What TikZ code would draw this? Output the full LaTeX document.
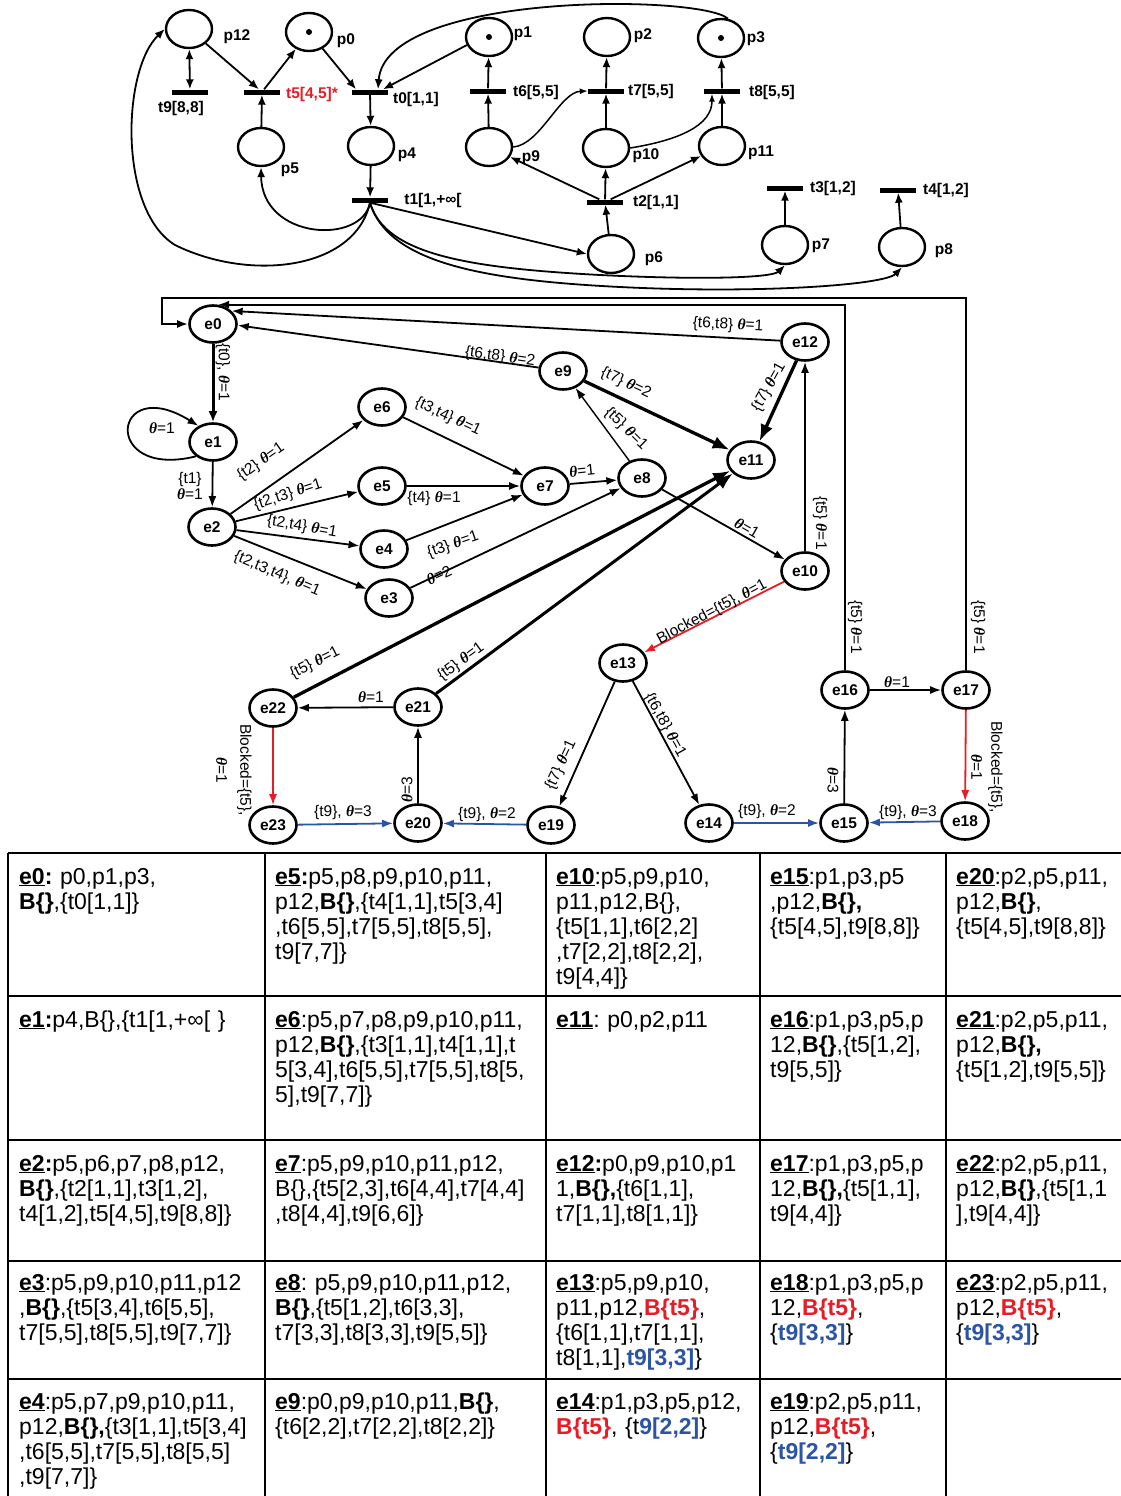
\documentclass[tikz,border=0pt]{standalone}
\usepackage{fontspec}
\setmainfont{Liberation Sans}
\newfontfamily\serifth{Liberation Serif}
\usetikzlibrary{arrows.meta,shapes.geometric}
\definecolor{myred}{RGB}{232,28,36}
\definecolor{myblue}{RGB}{44,84,164}
\newcommand{\thx}{{\serifth\bfseries\itshape θ}}
\newcommand{\lbl}[1]{\underline{\textbf{#1}}}
\newcommand{\Rt}[1]{\textcolor{myred}{\textbf{#1}}}
\newcommand{\Bt}[1]{\textcolor{myblue}{\textbf{#1}}}
\frenchspacing
\begin{document}
\begin{tikzpicture}[x=1pt,y=-1pt,
  pplace/.style={ellipse, draw, line width=2.4pt, minimum width=46pt, minimum height=38pt, inner sep=0pt},
  ptrans/.style={rectangle, fill=black, minimum width=36pt, minimum height=5pt, inner sep=0pt},
  plab/.style={font=\fontsize{15.5}{16}\selectfont\bfseries, inner sep=0pt},
  tok/.style={circle, fill=black, minimum size=6pt, inner sep=0pt},
  parc/.style={line width=1.8pt, -{Latex[length=10pt,width=8pt]}},
  estate/.style={ellipse, draw, line width=2.6pt, minimum width=47pt, minimum height=37pt, inner sep=0pt, font=\fontsize{15.5}{16}\selectfont\bfseries},
  ed/.style={line width=1.8pt, -{Latex[length=11pt,width=8pt]}},
  edbig/.style={line width=3.3pt, -{Latex[length=17pt,width=13pt]}},
  rededge/.style={ed, draw=myred},
  blueedge/.style={ed, draw=myblue},
  elab/.style={font=\fontsize{15.5}{16}\selectfont, inner sep=0pt},
  tline/.style={line width=2pt},
  cell/.style={anchor=base west, inner sep=0pt, text width=#1, align=left, font=\fontsize{23}{25}\selectfont}
]
\useasboundingbox (0,0) rectangle (1121,1496);

% ---------------- Petri net ----------------
\node[pplace] (p12) at (189,29) {};
\node[pplace] (p0) at (309,32) {};
\node[pplace] (p1) at (489,37) {};
\node[pplace] (p2) at (607,37) {};
\node[pplace] (p3) at (721,38) {};
\node[pplace] (p5) at (261,147) {};
\node[pplace] (p4) at (371,146) {};
\node[pplace] (p9) at (489,147) {};
\node[pplace] (p10) at (606,148) {};
\node[pplace] (p11) at (722,146) {};
\node[pplace] (p6) at (611,254) {};
\node[pplace] (p7) at (785,245) {};
\node[pplace] (p8) at (902,247) {};
\node[tok] (k0) at (p0) {};
\node[tok] (k1) at (p1) {};
\node[tok] (k3) at (p3) {};

\node[ptrans] (t9) at (190,92) {};
\node[ptrans] (t5) at (262,92) {};
\node[ptrans] (t0) at (370,92) {};
\node[ptrans] (t6) at (488,91) {};
\node[ptrans] (t7) at (606,91) {};
\node[ptrans] (t8) at (722,91) {};
\node[ptrans] (t1) at (370,200) {};
\node[ptrans] (t2) at (605,202) {};
\node[ptrans] (t3) at (785,188) {};
\node[ptrans] (t4) at (898,190) {};

\node[plab] (lp12) at (237,37) {p12};
\node[plab] (lp0) at (346,41) {p0};
\node[plab] (lt9) at (181,108) {t9[8,8]};
\node[plab, text=myred] (lt5) at (312,94) {t5[4,5]*};
\node[plab] (lt0) at (416,99) {t0[1,1]};
\node[plab] (lp5) at (290,170) {p5};
\node[plab] (lp4) at (407,155) {p4};
\node[plab] (lt1) at (433,200) {t1[1,+∞[};
\node[plab] (lp1) at (523,34) {p1};
\node[plab] (lp2) at (643,36) {p2};
\node[plab] (lp3) at (756,39) {p3};
\node[plab] (lt6) at (536,92) {t6[5,5]};
\node[plab] (lt7) at (651,91) {t7[5,5]};
\node[plab] (lt8) at (772,92) {t8[5,5]};
\node[plab] (lp9) at (531,158) {p9};
\node[plab] (lp10) at (646,156) {p10};
\node[plab] (lp11) at (761,153) {p11};
\node[plab] (lt2) at (656,202) {t2[1,1]};
\node[plab] (lt3) at (833,188) {t3[1,2]};
\node[plab] (lt4) at (946,190) {t4[1,2]};
\node[plab] (lp6) at (654,259) {p6};
\node[plab] (lp7) at (821,246) {p7};
\node[plab] (lp8) at (944,251) {p8};

\draw[parc, {Latex[length=10pt,width=8pt]}-{Latex[length=10pt,width=8pt]}] (p12) -- (t9);
\draw[parc] (p12) -- (t5);
\draw[parc] (t5) -- (p0);
\draw[parc] (p5) -- (t5);
\draw[parc] (p0) -- ([xshift=-14pt]t0.north);
\draw[parc] (p1.200) -- ([xshift=13pt]t0.north);
\draw[parc] (p3.70) .. controls (700,-6) and (385,-8) .. ([xshift=8pt]t0.north);
\draw[parc] (t0) -- (p4);
\draw[parc] (p4) -- (t1);
\draw[parc] (t1.south) .. controls (362,245) and (262,240) .. (p5.south);
\draw[parc] (t1.south) .. controls (355,270) and (250,282) .. (175,245) .. controls (118,210) and (122,70) .. (p12.west);
\draw[parc] (t1.south) -- (p6.west);
\draw[parc] (t1.south) .. controls (385,255) and (470,268) .. (600,275) .. controls (700,280) and (772,278) .. (p7.south);
\draw[parc] (t1.south) .. controls (388,262) and (480,280) .. (620,287) .. controls (760,294) and (885,285) .. (p8.south);
\draw[parc] (p9) -- (t6);
\draw[parc] (t6) -- (p1);
\draw[parc] (p10) -- (t7);
\draw[parc] (t7) -- (p2);
\draw[parc] (p11) -- (t8);
\draw[parc] (t8) -- (p3);
\draw[line width=1.5pt, -{Latex[length=8pt,width=6pt]}] (p9.east) .. controls (540,145) and (560,92) .. (t7.west);
\draw[line width=1.5pt, -{Latex[length=8pt,width=6pt]}] (p10.east) .. controls (680,140) and (712,125) .. ([xshift=-10pt]t8.south);
\draw[parc] (p6) -- (t2);
\draw[parc] (t2) -- (p9);
\draw[parc] (t2) -- (p10);
\draw[parc] (t2) -- (p11);
\draw[parc] (p7) -- (t3);
\draw[parc] (p8) -- (t4);

% ---------------- State graph ----------------
\node[estate] (e0) at (213,324) {e0};
\node[estate] (e1) at (213,442) {e1};
\node[estate] (e2) at (212,527) {e2};
\node[estate] (e3) at (389,598) {e3};
\node[estate] (e4) at (384,549) {e4};
\node[estate] (e5) at (382,486) {e5};
\node[estate] (e6) at (382,407) {e6};
\node[estate] (e7) at (545,486) {e7};
\node[estate] (e8) at (642,478) {e8};
\node[estate] (e9) at (563,371) {e9};
\node[estate] (e10) at (805,571) {e10};
\node[estate] (e11) at (751,460) {e11};
\node[estate] (e12) at (805,342) {e12};
\node[estate] (e13) at (623,663) {e13};
\node[estate] (e14) at (709,823) {e14};
\node[estate] (e15) at (844,823) {e15};
\node[estate] (e16) at (845,690) {e16};
\node[estate] (e17) at (966,690) {e17};
\node[estate] (e18) at (965,821) {e18};
\node[estate] (e19) at (551,825) {e19};
\node[estate] (e20) at (418,823) {e20};
\node[estate] (e21) at (418,707) {e21};
\node[estate] (e22) at (273,708) {e22};
\node[estate] (e23) at (273,825) {e23};
\coordinate (r2) at (162,298);

\draw[line width=3pt, -{Latex[length=11pt,width=9pt]}] (e0) -- (e1);
\draw[ed] (e1.220) .. controls (100,480) and (112,372) .. (e1.132);
\draw[ed] (e1) -- (e2);
\draw[ed] (e2) -- (e6);
\draw[ed] (e2) -- (e5);
\draw[ed] (e2) -- (e4);
\draw[ed] (e2) -- (e3);
\draw[ed] (e6) -- (e7);
\draw[ed] (e5) -- (e7);
\draw[ed] (e4) -- (e7);
\draw[ed] (e3) -- (e8);
\draw[ed] (e7) -- (e8);
\draw[ed, line width=1.4pt] (e8) -- (e9);
\draw[ed] (e8) -- (e10);
\draw[edbig] (e9) -- (e11);
\draw[ed] (e9) -- (e0.-3);
\draw[ed] (e12) -- (e0.35);
\draw[edbig] (e12) -- (e11);
\draw[ed] (e10) -- (e12);
\draw[rededge] (e10) -- (e13);
\draw[ed] (e13) -- (e19);
\draw[ed] (e13) -- (e14);
\draw[blueedge] (e14) -- (e15);
\draw[blueedge] (e18) -- (e15);
\draw[ed] (e15) -- (e16);
\draw[ed] (e16) -- (e17);
\draw[rededge] (e17) -- (e18);
\draw[ed] (e16.north) |- (e0.75);
\draw[ed, line width=2.2pt] (e17.north) |- (r2) |- (e0.west);
\draw[ed] (e21) -- (e22);
\draw[edbig, line width=3pt] (e21) -- (e11);
\draw[edbig] (e22) -- (e11);
\draw[ed] (e20) -- (e21);
\draw[blueedge] (e19) -- (e20);
\draw[blueedge] (e23) -- (e20);
\draw[rededge] (e22) -- (e23);

\node[elab, rotate=-90] (l01) at (223,372) {\{t0\}, \thx=1};
\node[elab] (l11) at (162,428) {\thx=1};
\node[elab, align=center] (l12) at (190,486) {\{t1\}\\\thx=1};
\node[elab, rotate=35] (l26) at (261,462) {\{t2\} \thx=1};
\node[elab, rotate=18] (l25) at (288,495) {\{t2,t3\} \thx=1};
\node[elab, rotate=-10] (l24) at (302,527) {\{t2,t4\} \thx=1};
\node[elab, rotate=-23] (l23) at (277,574) {\{t2,t3,t4\}, \thx=1};
\node[elab, rotate=-25] (l67) at (448,417) {\{t3,t4\} \thx=1};
\node[elab] (l57) at (434,498) {\{t4\} \thx=1};
\node[elab, rotate=19] (l47) at (453,545) {\{t3\} \thx=1};
\node[elab, rotate=25] (l38) at (439,575) {\thx=2};
\node[elab, rotate=6] (l78) at (582,471) {\thx=1};
\node[elab, rotate=-44] (l89) at (626,429) {\{t5\} \thx=1};
\node[elab, rotate=-30] (l810) at (747,528) {\thx=1};
\node[elab, rotate=-25] (l911) at (626,383) {\{t7\} \thx=2};
\node[elab, rotate=-8] (l90) at (500,357) {\{t6,t8\} \thx=2};
\node[elab, rotate=-3] (l120) at (728,325) {\{t6,t8\} \thx=1};
\node[elab, rotate=61] (l1211) at (769,387) {\{t7\} \thx=1};
\node[elab, rotate=-90] (l1012) at (820,523) {\{t5\} \thx=1};
\node[elab, rotate=28] (l1013) at (712,612) {Blocked=\{t5\}, \thx=1};
\node[elab, rotate=65] (l1319) at (561,765) {\{t7\} \thx=1};
\node[elab, rotate=-61] (l1314) at (665,725) {\{t6,t8\} \thx=1};
\node[elab] (l1415) at (767,811) {\{t9\}, \thx=2};
\node[elab] (l1815) at (908,812) {\{t9\}, \thx=3};
\node[elab, rotate=-90] (l1516) at (833,780) {\thx=3};
\node[elab] (l1617) at (897,682) {\thx=1};
\node[elab, rotate=-90, align=center, font=\fontsize{15.5}{20}\selectfont] (l1718) at (987,767) {Blocked=\{t5\},\\\thx=1};
\node[elab, rotate=-90] (l160) at (855,627) {\{t5\} \thx=1};
\node[elab, rotate=-90] (l170) at (978,627) {\{t5\} \thx=1};
\node[elab] (l2122) at (371,697) {\thx=1};
\node[elab, rotate=36] (l2111) at (461,662) {\{t5\} \thx=1};
\node[elab, rotate=27] (l2211) at (315,663) {\{t5\} \thx=1};
\node[elab, rotate=90] (l2021) at (407,790) {\thx=3};
\node[elab] (l1920) at (487,814) {\{t9\}, \thx=2};
\node[elab] (l2320) at (343,812) {\{t9\}, \thx=3};
\node[elab, rotate=-90, align=center, font=\fontsize{15.5}{24}\selectfont] (l2223) at (234,770) {Blocked=\{t5\},\\\thx=1};

% ---------------- Table ----------------
\foreach \yy in {853,996,1140,1261,1379} \draw[tline] (8,\yy) -- (1121,\yy);
\foreach \xx in {8,265,546,760,946} \draw[tline] (\xx,853) -- (\xx,1496);

\node[cell=250pt] (c0) at (19,884) {\lbl{e0}\textbf{:} p0,p1,p3,\\\textbf{B\{\}},\{t0[1,1]\}};
\node[cell=250pt] (c1) at (19,1027) {\lbl{e1}\textbf{:}p4,B\{\},\{t1[1,+∞[ \}};
\node[cell=250pt] (c2) at (19,1171) {\lbl{e2}\textbf{:}p5,p6,p7,p8,p12,\\\textbf{B\{\}},\{t2[1,1],t3[1,2],\\t4[1,2],t5[4,5],t9[8,8]\}};
\node[cell=250pt] (c3) at (19,1290) {\lbl{e3}:p5,p9,p10,p11,p12\\,\textbf{B\{\}},\{t5[3,4],t6[5,5],\\t7[5,5],t8[5,5],t9[7,7]\}};
\node[cell=250pt] (c4) at (19,1409) {\lbl{e4}:p5,p7,p9,p10,p11,\\p12,\textbf{B\{\},}\{t3[1,1],t5[3,4]\\,t6[5,5],t7[5,5],t8[5,5]\\,t9[7,7]\}};

\node[cell=275pt] (c5) at (275,884) {\lbl{e5}\textbf{:}p5,p8,p9,p10,p11,\\p12,\textbf{B\{\}},\{t4[1,1],t5[3,4]\\,t6[5,5],t7[5,5],t8[5,5],\\t9[7,7]\}};
\node[cell=275pt] (c6) at (275,1027) {\lbl{e6}:p5,p7,p8,p9,p10,p11,\\p12,\textbf{B\{\}},\{t3[1,1],t4[1,1],t\\5[3,4],t6[5,5],t7[5,5],t8[5,\\5],t9[7,7]\}};
\node[cell=275pt] (c7) at (275,1171) {\lbl{e7}:p5,p9,p10,p11,p12,\\B\{\},\{t5[2,3],t6[4,4],t7[4,4]\\,t8[4,4],t9[6,6]\}};
\node[cell=275pt] (c8) at (275,1290) {\lbl{e8}: p5,p9,p10,p11,p12,\\\textbf{B\{\}},\{t5[1,2],t6[3,3],\\t7[3,3],t8[3,3],t9[5,5]\}};
\node[cell=275pt] (c9) at (275,1409) {\lbl{e9}:p0,p9,p10,p11,\textbf{B\{\}},\\\{t6[2,2],t7[2,2],t8[2,2]\}};

\node[cell=210pt] (c10) at (556,884) {\lbl{e10}:p5,p9,p10,\\p11,p12,B\{\},\\\{t5[1,1],t6[2,2]\\,t7[2,2],t8[2,2],\\t9[4,4]\}};
\node[cell=210pt] (c11) at (556,1027) {\lbl{e11}: p0,p2,p11};
\node[cell=210pt] (c12) at (556,1171) {\lbl{e12}\textbf{:}p0,p9,p10,p1\\1,\textbf{B\{\},}\{t6[1,1],\\t7[1,1],t8[1,1]\}};
\node[cell=210pt] (c13) at (556,1290) {\lbl{e13}:p5,p9,p10,\\p11,p12,\Rt{B\{t5\}},\\\{t6[1,1],t7[1,1],\\t8[1,1],\Bt{t9[3,3]}\}};
\node[cell=210pt] (c14) at (556,1409) {\lbl{e14}:p1,p3,p5,p12,\\\Rt{B\{t5\}}, \{t\Bt{9[2,2]}\}};

\node[cell=185pt] (c15) at (770,884) {\lbl{e15}:p1,p3,p5\\,p12,\textbf{B\{\},}\\\{t5[4,5],t9[8,8]\}};
\node[cell=185pt] (c16) at (770,1027) {\lbl{e16}:p1,p3,p5,p\\12,\textbf{B\{\}},\{t5[1,2],\\t9[5,5]\}};
\node[cell=185pt] (c17) at (770,1171) {\lbl{e17}:p1,p3,p5,p\\12,\textbf{B\{\},}\{t5[1,1],\\t9[4,4]\}};
\node[cell=185pt] (c18) at (770,1290) {\lbl{e18}:p1,p3,p5,p\\12,\Rt{B\{t5\}},\\\{\Bt{t9[3,3]}\}};
\node[cell=185pt] (c19) at (770,1409) {\lbl{e19}:p2,p5,p11,\\p12,\Rt{B\{t5\}},\\\{\Bt{t9[2,2]}\}};

\node[cell=170pt] (c20) at (956,884) {\lbl{e20}:p2,p5,p11,\\p12,\textbf{B\{\}},\\\{t5[4,5],t9[8,8]\}};
\node[cell=170pt] (c21) at (956,1027) {\lbl{e21}:p2,p5,p11,\\p12,\textbf{B\{\},}\\\{t5[1,2],t9[5,5]\}};
\node[cell=170pt] (c22) at (956,1171) {\lbl{e22}:p2,p5,p11,\\p12,\textbf{B\{\}},\{t5[1,1\\],t9[4,4]\}};
\node[cell=170pt] (c23) at (956,1290) {\lbl{e23}:p2,p5,p11,\\p12,\Rt{B\{t5\}},\\\{\Bt{t9[3,3]}\}};
\end{tikzpicture}
\end{document}
